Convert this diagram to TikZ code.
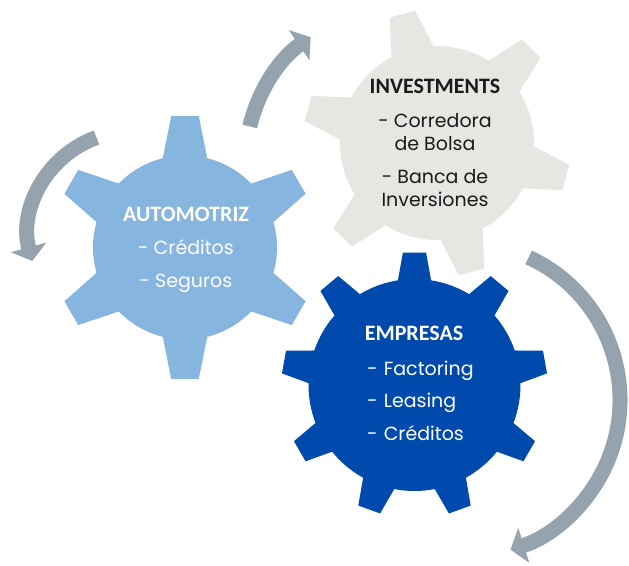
\documentclass[tikz,border=0pt]{standalone}
\usepackage{fontspec}
\setmainfont{Poppins}
\newfontfamily\headfont{Carlito}
\usetikzlibrary{arrows.meta,positioning}

\definecolor{autoblue}{HTML}{86B5E0}
\definecolor{invgray}{HTML}{E7E6E2}
\definecolor{empblue}{HTML}{004AAD}
\definecolor{flowgray}{HTML}{95A3AE}
\definecolor{ink}{HTML}{1A1A1A}

% #1 centre, #2 body radius, #3 tip radius, #4 teeth, #5 first tooth, #6 tip half angle, #7 root half angle, #8 colour
\newcommand{\gearpath}[8]{%
  \pgfmathsetmacro{\gstep}{360/#4}%
  \pgfmathtruncatemacro{\glast}{#4-1}%
  \fill[#8, shift={#1}] ({#5-#7}:#2)
    \foreach \k [evaluate=\k as \a using #5+\k*\gstep] in {0,...,\glast} {
      -- ({\a-#6}:#3) -- ({\a+#6}:#3) -- ({\a+#7}:#2)
      arc[start angle=\a+#7, end angle=\a+\gstep-#7, radius=#2]
    } -- cycle;
}

\begin{document}
\begin{tikzpicture}[x=1pt, y=-1pt,
    flow/.style={draw=flowgray, line width=15pt, -{Triangle[width=36pt,length=14pt]}},
    head/.style={font=\headfont\bfseries\fontsize{22}{22}\selectfont, inner sep=0pt, text height=14pt, text depth=5pt},
    item/.style={font=\fontsize{19}{19}\selectfont, inner sep=0pt, text height=14pt, text depth=5pt},
    empitem/.style={item, text=white, text width=112pt, align=left},
    node distance = 33pt]
          \useasboundingbox (0,0) rectangle (629,565);
          \fill[white] (0,0) rectangle (629,565);

          \draw[flow] (131.7,234.3) ++(-110:103) arc[start angle=-110, end angle=-195, radius=103];
          \draw[flow] (395,160) ++(-167:149) arc[start angle=-167, end angle=-124.5, radius=149];
          \draw[flow] (463,400) ++(-65.3:157) arc[start angle=-65.3, end angle=72.4, radius=157];

          \gearpath{(437,143)}{97}{134}{6}{-105}{5.6}{13}{invgray}
          \gearpath{(185,247.5)}{92}{132}{6}{-90}{6}{14}{autoblue}
          \gearpath{(414.5,385)}{106}{133}{9}{-90}{5}{9}{empblue}

          \node[head, text=white] (auto) at (186,217) {AUTOMOTRIZ};
          \node[item, text=white] (auto1) [below of = auto]  {- Créditos};
          \node[item, text=white] (auto2) [below of = auto1] {- Seguros};

          \node[head, text=ink] (inv) at (435,89) {INVESTMENTS};
          \node[item, text=ink, node distance=34pt] (inv1) [below of = inv]  {- Corredora};
          \node[item, text=ink, node distance=23pt] (inv2) [below of = inv1] {de Bolsa};
          \node[item, text=ink]                     (inv3) [below of = inv2] {- Banca de};
          \node[item, text=ink, node distance=23pt] (inv4) [below of = inv3] {Inversiones};

          \node[head, text=white] (emp) at (414,335.5) {EMPRESAS};
          \node[empitem, node distance=35pt] (emp1) [below of = emp, xshift=9pt] {- Factoring};
          \node[empitem, node distance=32pt] (emp2) [below of = emp1] {- Leasing};
          \node[empitem]                     (emp3) [below of = emp2] {- Créditos};
        \end{tikzpicture}
\end{document}
